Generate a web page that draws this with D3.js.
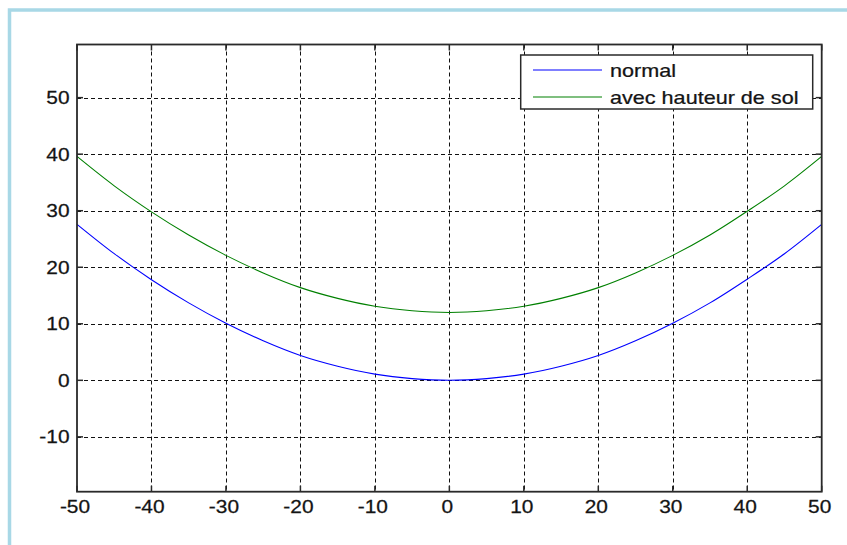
<!DOCTYPE html>
<html>
<head>
<meta charset="utf-8">
<script src="https://cdn.jsdelivr.net/npm/d3@7/dist/d3.min.js"></script>
<style>
  html, body { margin: 0; padding: 0; background: #fff; }
  svg { display: block; }
  text { font-family: "Liberation Sans", Arial, sans-serif; fill: #141414; stroke: #141414; stroke-width: 0.25; }
</style>
</head>
<body>
<svg id="chart" width="847" height="545"></svg>
<script>
// Sample positions and the two curves
const xValues = [-50, -45, -40, -35, -30, -25, -20, -15, -10, -5, 0, 5, 10, 15, 20, 25, 30, 35, 40, 45, 50];
const normalValues = [27.6, 22.4, 17.8, 13.7, 10.1, 7.0, 4.4, 2.5, 1.1, 0.3, 0.0, 0.3, 1.1, 2.5, 4.4, 7.0, 10.1, 13.7, 17.9, 22.4, 27.6];
const solValues = [39.6, 34.4, 29.8, 25.7, 22.1, 19.0, 16.4, 14.5, 13.1, 12.3, 12.0, 12.3, 13.1, 14.5, 16.4, 19.0, 22.1, 25.7, 29.9, 34.4, 39.6];

const xTicks = [-50, -40, -30, -20, -10, 0, 10, 20, 30, 40, 50];
const yTicks = [-10, 0, 10, 20, 30, 40, 50];
const seriesNames = ["normal", "avec hauteur de sol"];
const seriesColors = ["#0000ff", "#008000"];

const svg = d3.select("#chart");
const plot = { left: 77, right: 821.7, top: 44.5, bottom: 491.7 };
const fontSize = 18, stretch = 1.16, legendStretch = 1.2;

// Outer frame
svg.append("rect")
  .attr("x", 9.5).attr("y", 10)
  .attr("width", 1000).attr("height", 1000)
  .attr("fill", "none").attr("stroke", "#a8d8e6").attr("stroke-width", 3.5);

const x = d3.scaleLinear().domain([-50, 50]).range([plot.left, plot.right]);
const y = d3.scaleLinear().domain([-19.7, 59.4]).range([plot.bottom, plot.top]);

// Dashed grid
const grid = svg.append("g").attr("stroke", "#111").attr("stroke-width", 1).attr("stroke-dasharray", "4,3");
grid.selectAll("line.v").data(xTicks.slice(1, -1)).join("line")
  .attr("x1", d => Math.round(x(d)) + 0.5).attr("x2", d => Math.round(x(d)) + 0.5)
  .attr("y1", plot.top).attr("y2", plot.bottom);
grid.selectAll("line.h").data(yTicks).join("line")
  .attr("y1", d => Math.round(y(d)) + 0.5).attr("y2", d => Math.round(y(d)) + 0.5)
  .attr("x1", plot.left).attr("x2", plot.right);

// Curves
const line = d3.line().x((d, i) => x(xValues[i])).y(d => y(d)).curve(d3.curveMonotoneX);
[normalValues, solValues].forEach((vals, k) => {
  svg.append("path").datum(vals)
    .attr("d", line)
    .attr("fill", "none")
    .attr("stroke", seriesColors[k])
    .attr("stroke-width", 1.1);
});

// Axes with inward ticks on all four sides
const tickLen = 6;
const axes = svg.append("g").attr("stroke", "#2a2a2a");
axes.append("rect")
  .attr("x", plot.left).attr("y", plot.top)
  .attr("width", plot.right - plot.left).attr("height", plot.bottom - plot.top)
  .attr("fill", "none").attr("stroke-width", 1.8);
xTicks.forEach(t => {
  const px = x(t);
  axes.append("line").attr("x1", px).attr("x2", px).attr("y1", plot.bottom).attr("y2", plot.bottom - tickLen).attr("stroke-width", 1.5);
  axes.append("line").attr("x1", px).attr("x2", px).attr("y1", plot.top).attr("y2", plot.top + tickLen).attr("stroke-width", 1.5);
});
yTicks.forEach(t => {
  const py = y(t);
  axes.append("line").attr("y1", py).attr("y2", py).attr("x1", plot.left).attr("x2", plot.left + tickLen).attr("stroke-width", 1.5);
  axes.append("line").attr("y1", py).attr("y2", py).attr("x1", plot.right).attr("x2", plot.right - tickLen).attr("stroke-width", 1.5);
});

// Tick labels
svg.append("g").selectAll("text").data(xTicks).join("text")
  .attr("transform", d => `translate(${x(d) - 2},512.5) scale(${stretch},1)`)
  .attr("text-anchor", "middle").attr("font-size", fontSize)
  .text(d => d);
svg.append("g").selectAll("text").data(yTicks).join("text")
  .attr("transform", d => `translate(${plot.left - 7.5},${y(d) + 6.5}) scale(${stretch},1)`)
  .attr("text-anchor", "end").attr("font-size", fontSize)
  .text(d => d);

// Legend
const legend = svg.append("g");
legend.append("rect")
  .attr("x", 520.7).attr("y", 55).attr("width", 292).attr("height", 54)
  .attr("fill", "#fff").attr("stroke", "#2a2a2a").attr("stroke-width", 1.5);
const rowY = [70, 97];
seriesNames.forEach((name, k) => {
  legend.append("line")
    .attr("x1", 533).attr("x2", 602)
    .attr("y1", rowY[k]).attr("y2", rowY[k])
    .attr("stroke", seriesColors[k]).attr("stroke-width", 1.1);
  legend.append("text")
    .attr("transform", `translate(610,${rowY[k] + 6.5}) scale(${legendStretch},1)`)
    .attr("font-size", fontSize)
    .text(name);
});
</script>
</body>
</html>
